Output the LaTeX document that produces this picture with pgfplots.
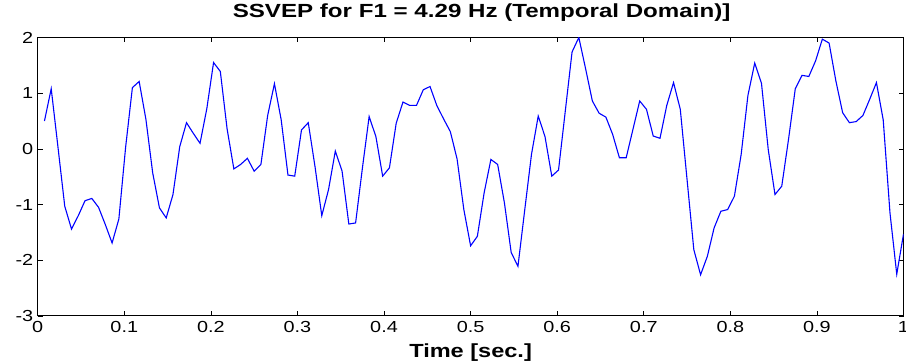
\documentclass[border=0pt]{standalone}
\usepackage{fontspec}
\setmainfont{Liberation Sans}
\usepackage{graphicx}
\usepackage{pgfplots}
\usepackage{pgfplotstable}
\pgfplotsset{compat=1.18}
\newcommand\sx[1]{\scalebox{1.24}[1]{#1}}
\newcommand\st[1]{\scalebox{1.27}[1]{#1}}
\pgfplotstableread{
k v
1 0.50
2 1.08
3 0.03
4 -1.03
5 -1.44
6 -1.20
7 -0.93
8 -0.89
9 -1.05
10 -1.36
11 -1.69
12 -1.26
13 0.03
14 1.10
15 1.21
16 0.53
17 -0.43
18 -1.06
19 -1.24
20 -0.82
21 0.04
22 0.47
23 0.28
24 0.10
25 0.72
26 1.55
27 1.39
28 0.36
29 -0.36
30 -0.28
31 -0.17
32 -0.40
33 -0.28
34 0.60
35 1.17
36 0.52
37 -0.47
38 -0.49
39 0.34
40 0.47
41 -0.32
42 -1.20
43 -0.73
44 -0.04
45 -0.40
46 -1.35
47 -1.33
48 -0.35
49 0.58
50 0.22
51 -0.49
52 -0.34
53 0.46
54 0.84
55 0.78
56 0.78
57 1.06
58 1.12
59 0.78
60 0.54
61 0.31
62 -0.18
63 -1.09
64 -1.74
65 -1.57
66 -0.79
67 -0.19
68 -0.28
69 -0.97
70 -1.86
71 -2.11
72 -1.10
73 -0.10
74 0.59
75 0.22
76 -0.49
77 -0.38
78 0.68
79 1.74
80 2.00
81 1.44
82 0.86
83 0.64
84 0.57
85 0.26
86 -0.16
87 -0.16
88 0.35
89 0.86
90 0.71
91 0.23
92 0.19
93 0.78
94 1.19
95 0.71
96 -0.55
97 -1.81
98 -2.26
99 -1.93
100 -1.42
101 -1.12
102 -1.09
103 -0.85
104 -0.10
105 0.96
106 1.54
107 1.18
108 -0.01
109 -0.82
110 -0.67
111 0.17
112 1.08
113 1.32
114 1.30
115 1.58
116 1.97
117 1.90
118 1.22
119 0.65
120 0.47
121 0.49
122 0.60
123 0.89
124 1.19
125 0.52
126 -1.15
127 -2.25
128 -1.53
}\sig
\begin{document}
\begin{tikzpicture}
\useasboundingbox (-37.7pt,-47pt) rectangle (868.5pt,316pt);
\begin{axis}[
  scale only axis, width=866pt, height=278.5pt,
  at={(0,0)}, anchor=south west,
  xmin=0, xmax=1, ymin=-3, ymax=2,
  xtick={0,0.1,0.2,0.3,0.4,0.5,0.6,0.7,0.8,0.9,1},
  xticklabels={\sx{0},\sx{0.1},\sx{0.2},\sx{0.3},\sx{0.4},\sx{0.5},\sx{0.6},\sx{0.7},\sx{0.8},\sx{0.9},\sx{1}},
  ytick={-3,-2,-1,0,1,2},
  yticklabels={\sx{-3},\sx{-2},\sx{-1},\sx{0},\sx{1},\sx{2}},
  tick align=inside, tick pos=both, major tick length=5pt,
  ticklabel style={font=\fontsize{16}{19}\selectfont, text=black},
  xticklabel style={yshift=-2pt},
  yticklabel style={xshift=-1pt},
  axis line style={black, line width=0.9pt},
  every tick/.style={black, line width=0.7pt},
  title={\st{SSVEP for F1 = 4.29 Hz (Temporal Domain)]}},
  title style={font=\fontsize{19}{22}\selectfont\bfseries, at={(axis description cs:0.5,1)}, anchor=base, yshift=13.5pt, xshift=11pt},
  xlabel={\sx{Time [sec.]}},
  xlabel style={font=\fontsize{19}{22}\selectfont\bfseries, at={(axis description cs:0.5,0)}, anchor=base, yshift=-42pt},
]
\addplot[color={rgb,255:red,0;green,0;blue,255}, line width=1.1pt, mark=none] table[x expr=\thisrow{k}/128, y=v]{\sig};
\end{axis}
\end{tikzpicture}
\end{document}
